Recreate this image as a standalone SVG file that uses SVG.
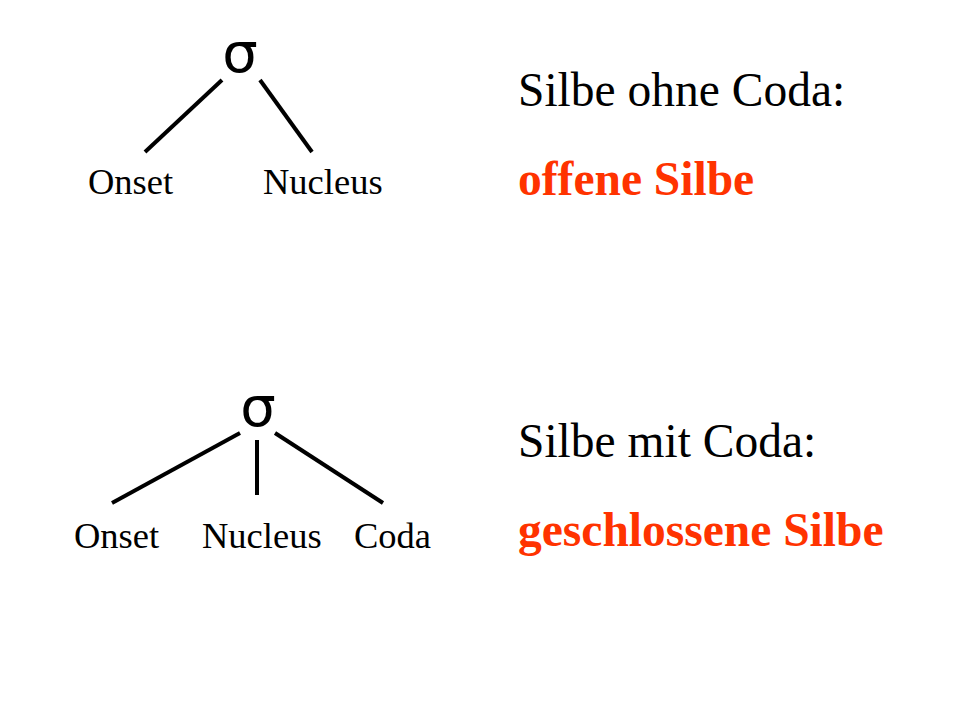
<svg xmlns="http://www.w3.org/2000/svg" width="960" height="720" viewBox="0 0 960 720">
<style>
.sig{font-family:"DejaVu Sans","Liberation Sans",sans-serif;font-size:56px;fill:#000}
.lab{font-family:"Liberation Serif",serif;font-size:36.5px;fill:#000}
.big{font-family:"Liberation Serif",serif;font-size:47.5px;fill:#000}
.red{font-family:"Liberation Serif",serif;font-size:47.5px;font-weight:bold;fill:#FF3300}
.ln{stroke:#000;stroke-width:4;fill:none}
</style>
<rect width="960" height="720" fill="#fff"/>
<g id="connectors">
<line class="ln" x1="222" y1="80" x2="145" y2="152"/>
<line class="ln" x1="260" y1="80" x2="312" y2="152"/>
<line class="ln" x1="240" y1="433" x2="112" y2="503"/>
<line class="ln" x1="257" y1="440" x2="257" y2="495"/>
<line class="ln" x1="275" y1="433" x2="383" y2="503"/>
</g>
<g id="sigma1"><text class="sig" x="240" y="72" text-anchor="middle">σ</text></g>
<g id="onset1"><text class="lab" x="88" y="194">Onset</text></g>
<g id="nucleus1"><text class="lab" x="263" y="194">Nucleus</text></g>
<g id="sigma2"><text class="sig" x="258" y="426" text-anchor="middle">σ</text></g>
<g id="onset2"><text class="lab" x="74" y="548">Onset</text></g>
<g id="nucleus2"><text class="lab" x="202" y="548">Nucleus</text></g>
<g id="coda2"><text class="lab" x="354" y="548">Coda</text></g>
<g id="desc1"><text class="big" x="518" y="106">Silbe ohne Coda:</text><text class="red" x="518" y="195">offene Silbe</text></g>
<g id="desc2"><text class="big" x="518" y="457">Silbe mit Coda:</text><text class="red" x="518" y="546">geschlossene Silbe</text></g>
</svg>
